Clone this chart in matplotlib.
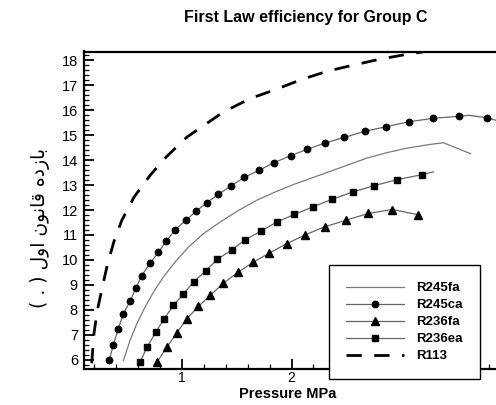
import matplotlib
matplotlib.use("Agg")
import matplotlib.pyplot as plt
from matplotlib.ticker import MultipleLocator, FixedLocator, FixedFormatter

plt.rcParams['font.family'] = ['Liberation Sans', 'DejaVu Sans']

# ---------------- data ----------------
title = "First Law efficiency for Group C"
xlabel = "Pressure MPa"

# Persian y label "بازده قانون اول ( . )", pre-shaped (presentation forms) in visual order
w_bazdeh = "\uFEE9\uFEA9\uFEAF\uFE8E\uFE91"
w_ghanoon = "\uFEE5\uFEEE\uFEE7\uFE8E\uFED7"
w_aval = "\uFEDD\uFEED\uFE8D"
ylabel = "( . ) " + w_aval + " " + w_ghanoon + " " + w_bazdeh

r245fa_x = [0.464, 0.525, 0.586, 0.662, 0.738, 0.829, 0.936, 1.058, 1.195, 1.347,
            1.514, 1.682, 1.849, 2.016, 2.290, 2.534, 2.687, 2.870, 3.052, 3.250,
            3.386, 3.636]
r245fa_y = [5.96, 6.76, 7.43, 8.10, 8.70, 9.31, 9.91, 10.51, 11.05, 11.51,
            11.98, 12.39, 12.72, 13.02, 13.45, 13.84, 14.08, 14.30, 14.48, 14.62,
            14.70, 14.26]

r245ca_x = [0.336, 0.373, 0.418, 0.464, 0.525, 0.580, 0.632, 0.708, 0.784, 0.854,
            0.936, 1.032, 1.126, 1.225, 1.332, 1.445, 1.569, 1.703, 1.840, 1.993,
            2.139, 2.306, 2.480, 2.671, 2.863, 3.070, 3.295, 3.530, 3.620, 3.785, 3.95]
r245ca_y = [5.99, 6.60, 7.23, 7.84, 8.34, 8.88, 9.37, 9.87, 10.30, 10.74,
            11.20, 11.58, 11.94, 12.29, 12.63, 12.96, 13.31, 13.59, 13.90, 14.18,
            14.43, 14.69, 14.91, 15.16, 15.34, 15.54, 15.68, 15.76, 15.80, 15.70, 15.50]
r245ca_marks = [i for i in range(len(r245ca_x)) if i not in (28, 30)]

r236fa_x = [0.775, 0.860, 0.952, 1.043, 1.149, 1.256, 1.377, 1.514, 1.651, 1.797,
            1.956, 2.123, 2.306, 2.498, 2.700, 2.920, 3.158]
r236fa_y = [5.92, 6.49, 7.06, 7.63, 8.13, 8.57, 9.06, 9.51, 9.91, 10.27,
            10.65, 11.00, 11.33, 11.59, 11.86, 12.02, 11.81]

r236ea_x = [0.616, 0.683, 0.763, 0.836, 0.921, 1.012, 1.110, 1.219, 1.322, 1.454,
            1.575, 1.721, 1.871, 2.026, 2.192, 2.370, 2.559, 2.756, 2.966, 3.195, 3.295]
r236ea_y = [5.89, 6.52, 7.12, 7.63, 8.17, 8.63, 9.13, 9.57, 10.02, 10.40,
            10.80, 11.15, 11.53, 11.82, 12.12, 12.43, 12.72, 12.98, 13.22, 13.42, 13.53]
r236ea_marks = list(range(len(r236ea_x) - 1))

r113_x = [0.175, 0.181, 0.196, 0.227, 0.272, 0.318, 0.379, 0.449, 0.562, 0.708,
          0.860, 1.043, 1.155, 1.377, 1.621, 1.858, 2.093, 2.336, 2.571, 2.815,
          3.058, 3.286, 3.50]
r113_y = [5.85, 6.20, 7.06, 7.99, 8.90, 9.81, 10.75, 11.58, 12.52, 13.39,
          14.15, 14.92, 15.26, 15.93, 16.47, 16.84, 17.24, 17.58, 17.82, 18.06,
          18.25, 18.40, 18.55]

series_names = ["R245fa", "R245ca", "R236fa", "R236ea", "R113"]

x_major = [1, 2, 3]
x_major_labels = ["1", "2", ""]
y_major = list(range(6, 19))

# ---------------- figure ----------------
W, H = 496, 405
fig = plt.figure(figsize=(W / 100, H / 100), dpi=100)

ax_left, ax_right = 83.5, 510.5
ax_top, ax_bottom = 51.5, 369.0
ax = fig.add_axes([ax_left / W, 1 - ax_bottom / H,
                   (ax_right - ax_left) / W, (ax_bottom - ax_top) / H])
ax.set_xlim(0.1, 4.0)
ax.set_ylim(5.62, 18.36)

line_c = '#666666'
ax.plot(r245fa_x, r245fa_y, color='#7a7a7a', lw=0.9, label=series_names[0])
ax.plot(r245ca_x, r245ca_y, color=line_c, lw=0.9, marker='o', ms=4.6,
        mfc='black', mec='black', markevery=r245ca_marks, label=series_names[1])
ax.plot(r236fa_x, r236fa_y, color=line_c, lw=0.9, marker='^', ms=5.2,
        mfc='black', mec='black', label=series_names[2])
ax.plot(r236ea_x, r236ea_y, color=line_c, lw=0.9, marker='s', ms=4.8,
        mfc='black', mec='black', markevery=r236ea_marks, label=series_names[3])
ax.plot(r113_x, r113_y, color='black', lw=2.0, dashes=(5.5, 4.5),
        label=series_names[4])

# spines
for s in ['left', 'bottom', 'top']:
    ax.spines[s].set_linewidth(1.6)
ax.spines['right'].set_visible(False)

ax.xaxis.set_major_locator(FixedLocator(x_major))
ax.xaxis.set_major_formatter(FixedFormatter(x_major_labels))
ax.xaxis.set_minor_locator(MultipleLocator(0.2))
ax.yaxis.set_major_locator(FixedLocator(y_major))
ax.yaxis.set_minor_locator(MultipleLocator(0.2))
ax.tick_params(which='both', direction='in', top=False, right=False)
ax.tick_params(which='major', length=7, width=1.3, labelsize=10.5, pad=4)
ax.tick_params(which='minor', length=3.5, width=0.9)
ax.tick_params(axis='x', which='major', pad=1.5, labelsize=10)

fig.text(288 / W, 1 - 394 / H, xlabel, fontsize=10.5, fontweight='bold',
         ha='center', va='center')

fig.text(40 / W, 1 - 228 / H, ylabel, rotation=90, fontsize=13.5,
         ha='center', va='center', family=['DejaVu Sans'])

fig.text(306 / W, 1 - 22 / H, title, fontsize=11.5, fontweight='bold',
         ha='center', va='baseline')

leg = ax.legend(loc='upper left', bbox_to_anchor=(329 / W, 1 - 265 / H),
                bbox_transform=fig.transFigure, frameon=True, fancybox=False,
                edgecolor='black', framealpha=1,
                prop={'weight': 'bold', 'size': 9.5},
                handlelength=4.4, handletextpad=0.9, labelspacing=0.36,
                borderpad=1.3, borderaxespad=0)
leg.get_frame().set_linewidth(1.0)
leg.set_zorder(5)

fig.savefig("out.png", dpi=100)
